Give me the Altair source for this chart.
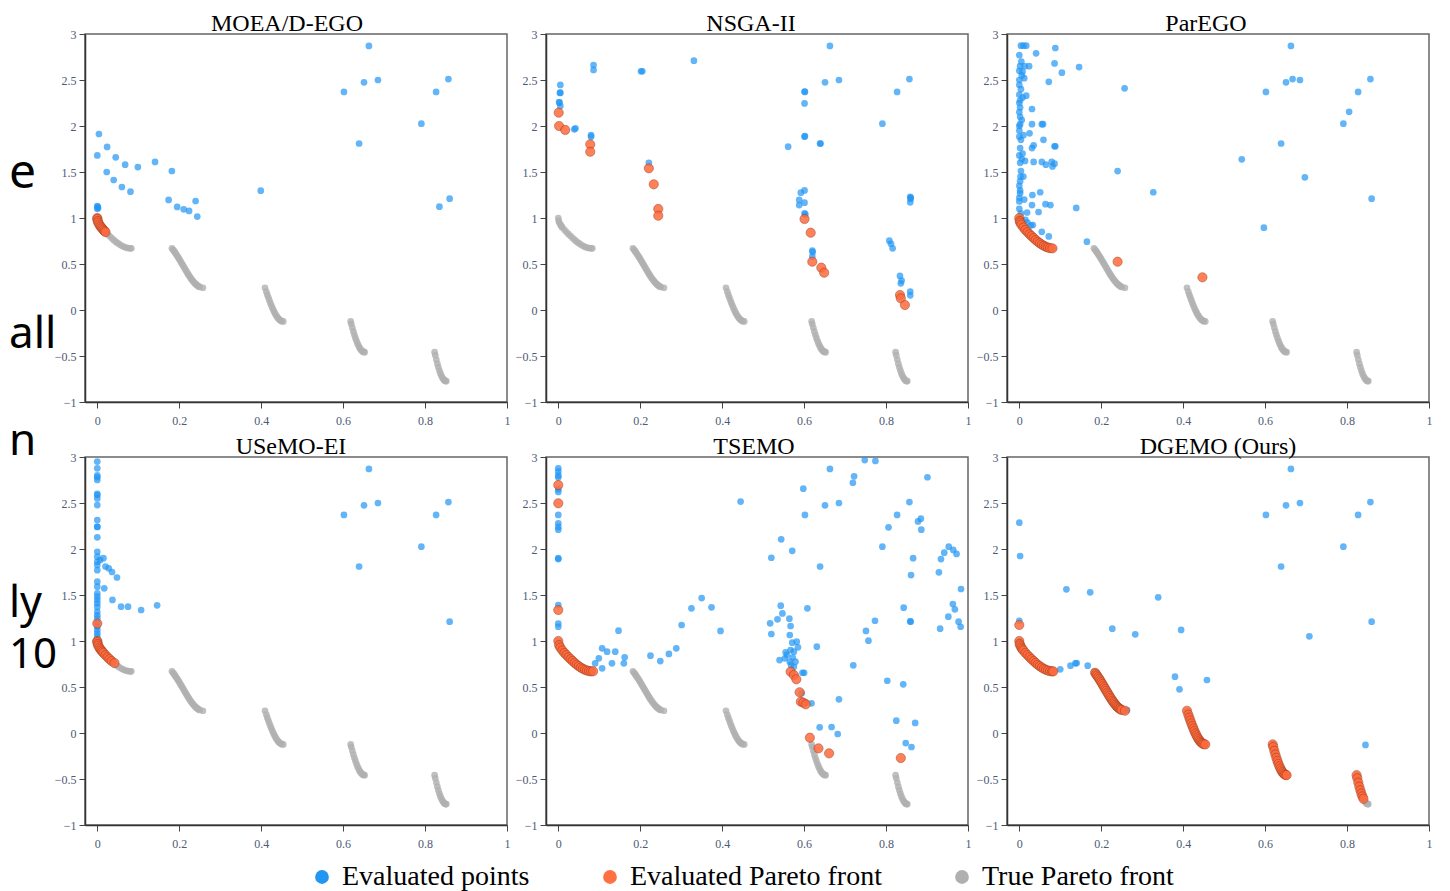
import altair as alt
import pandas as pd

# ---------------- data ----------------
methods = ["MOEA/D-EGO", "NSGA-II", "ParEGO", "USeMO-EI", "TSEMO", "DGEMO (Ours)"]
kinds = ["Evaluated points", "Evaluated Pareto front", "True Pareto front"]

# true Pareto front
true_x = [0.0, 0.001, 0.0025, 0.005, 0.0075, 0.01, 0.015, 0.02, 0.025, 0.03, 0.035, 0.04, 0.045,
          0.05, 0.055, 0.06, 0.065, 0.07, 0.075, 0.08, 0.083,
          0.1822, 0.185, 0.1875, 0.19, 0.1925, 0.195, 0.1975, 0.2, 0.2025, 0.205, 0.2075, 0.21, 0.2125,
          0.215, 0.2175, 0.22, 0.2225, 0.225, 0.2275, 0.23, 0.2325, 0.235, 0.2375, 0.24, 0.2425, 0.245,
          0.2475, 0.25, 0.2578,
          0.4093, 0.4125, 0.415, 0.4175, 0.42, 0.4225, 0.425, 0.4275, 0.43, 0.4325, 0.435, 0.4375, 0.44,
          0.4425, 0.445, 0.4475, 0.45, 0.4539,
          0.6184, 0.62, 0.6225, 0.625, 0.6275, 0.63, 0.6325, 0.635, 0.6375, 0.64, 0.6425, 0.645, 0.6475,
          0.65, 0.6525,
          0.8233, 0.825, 0.8275, 0.83, 0.8325, 0.835, 0.8375, 0.84, 0.8425, 0.845, 0.8475, 0.85, 0.8518]
true_y = [1.0, 0.968, 0.950, 0.928, 0.911, 0.897, 0.871, 0.847, 0.824, 0.803, 0.782, 0.762, 0.743,
          0.726, 0.711, 0.698, 0.687, 0.679, 0.673, 0.670, 0.670,
          0.670, 0.654, 0.639, 0.623, 0.606, 0.589, 0.571, 0.553, 0.534, 0.515, 0.496, 0.477, 0.458,
          0.439, 0.420, 0.402, 0.384, 0.367, 0.350, 0.334, 0.320, 0.306, 0.293, 0.282, 0.272, 0.263,
          0.256, 0.250, 0.242,
          0.242, 0.200, 0.167, 0.136, 0.105, 0.076, 0.048, 0.021, -0.004, -0.026, -0.047, -0.066, -0.082,
          -0.096, -0.107, -0.115, -0.121, -0.124,
          -0.124, -0.152, -0.193, -0.233, -0.269, -0.303, -0.335, -0.363, -0.387, -0.409, -0.426, -0.440,
          -0.450, -0.456, -0.458,
          -0.458, -0.492, -0.539, -0.583, -0.622, -0.658, -0.689, -0.715, -0.737, -0.754, -0.766, -0.772,
          -0.773]

# initial samples shared by every method
init_x = [0.602, 0.639, 0.651, 0.663, 0.685, 0.791, 0.827, 0.857, 0.860]
init_y = [2.37, 1.81, 2.475, 2.87, 2.50, 2.025, 2.37, 2.51, 1.21]

# MOEA/D-EGO
moead_eval_x = [0.004, 0.0, 0.024, 0.045, 0.068, 0.099, 0.141, 0.182, 0.023, 0.040, 0.060, 0.081,
                0.174, 0.195, 0.211, 0.224, 0.240, 0.244, 0.399, 0.835, 0.0, 0.001, 0.0, 0.002]
moead_eval_y = [1.913, 1.68, 1.772, 1.66, 1.58, 1.554, 1.609, 1.511, 1.50, 1.413, 1.337, 1.286,
                1.196, 1.12, 1.094, 1.077, 1.185, 1.015, 1.297, 1.123, 1.13, 1.12, 1.10, 1.11]
moead_pf_x = [0.0, 0.0, 0.001, 0.0025, 0.005, 0.0075, 0.01, 0.0125, 0.015, 0.0175, 0.02]
moead_pf_y = [1.0, 0.99, 0.968, 0.950, 0.928, 0.911, 0.897, 0.884, 0.871, 0.858, 0.847]

# NSGA-II
nsga_eval_x = [0.005, 0.005, 0.004, 0.003, 0.005, 0.002, 0.039, 0.042, 0.080, 0.080, 0.086, 0.086,
               0.202, 0.205, 0.331, 0.221, 0.561, 0.601, 0.601, 0.602, 0.601, 0.640, 0.592, 0.588,
               0.588, 0.601, 0.601, 0.601, 0.603, 0.620, 0.620, 0.621, 0.808, 0.816, 0.812, 0.834,
               0.836, 0.838, 0.859, 0.859, 0.860, 0.859, 0.859]
nsga_eval_y = [2.446, 2.362, 2.36, 2.253, 2.217, 2.26, 1.964, 1.975, 1.884, 1.90, 2.663, 2.61,
               2.595, 2.595, 2.71, 1.60, 1.775, 2.245, 1.884, 1.89, 2.375, 1.81, 1.275, 1.196,
               1.14, 1.30, 1.166, 1.05, 1.04, 0.645, 0.58, 0.63, 0.753, 0.67, 0.72, 0.37,
               0.29, 0.32, 1.23, 1.17, 1.22, 0.20, 0.16]
nsga_pf_x = [0.001, 0.002, 0.017, 0.078, 0.078, 0.221, 0.233, 0.244, 0.244, 0.601, 0.616, 0.620,
             0.642, 0.649, 0.834, 0.836, 0.846]
nsga_pf_y = [2.145, 2.0, 1.957, 1.80, 1.72, 1.54, 1.366, 1.098, 1.025, 0.989, 0.84, 0.525,
             0.46, 0.405, 0.163, 0.127, 0.054]

# ParEGO
parego_eval_x = [0.004, 0.017, 0.010, 0.0, 0.041, 0.088, 0.086, 0.002, 0.013, 0.024, 0.104, 0.146,
                 0.008, 0.012, 0.0, 0.0, 0.072, 0.257, 0.0, 0.008, 0.017, 0.002, 0.031, 0.0, 0.002,
                 0.002, 0.006, 0.002, 0.031, 0.055, 0.058, 0.0, 0.004, 0.025, 0.059, 0.035, 0.031,
                 0.002, 0.086, 0.088, 0.0, 0.006, 0.035, 0.055, 0.065, 0.079, 0.081, 0.086, 0.002,
                 0.004, 0.002, 0.240, 0.002, 0.0, 0.032, 0.051, 0.327, 0.064, 0.076, 0.139, 0.031,
                 0.047, 0.019, 0.033, 0.055, 0.072, 0.165, 0.543, 0.597, 0.697, 0.805, 0.667,
                 0.0, 0.0, 0.003, 0.0, 0.002, 0.0, 0.0, 0.004, 0.0, 0.004, 0.0, 0.006, 0.008, 0.010,
                 0.012, 0.015, 0.020, 0.028, 0.014, 0.010, 0.005]
parego_eval_y = [2.873, 2.873, 2.873, 2.77, 2.79, 2.848, 2.68, 2.65, 2.65, 2.65, 2.58, 2.64,
                 2.59, 2.52, 2.50, 2.446, 2.48, 2.41, 2.34, 2.31, 2.33, 2.28, 2.185, 2.25, 2.20,
                 2.10, 2.065, 2.02, 2.02, 2.02, 2.02, 1.884, 1.85, 1.92, 1.85, 1.79, 1.76,
                 1.76, 1.78, 1.78, 1.68, 1.64, 1.61, 1.61, 1.58, 1.61, 1.56, 1.59, 1.60,
                 1.51, 1.40, 1.51, 1.27, 1.18, 1.25, 1.28, 1.28, 1.15, 1.14, 1.11, 1.14,
                 1.065, 1.06, 0.924, 0.85, 0.80, 0.743, 1.638, 0.895, 1.442, 2.155, 2.51,
                 2.0, 1.95, 1.45, 1.35, 1.30, 1.22, 1.10, 1.05, 2.15, 2.40, 2.60, 2.55, 1.70, 1.45,
                 1.20, 0.98, 0.95, 0.92, 1.62, 1.90, 2.70]
parego_pf_x = [0.0, 0.001, 0.0025, 0.005, 0.01, 0.015, 0.02, 0.025, 0.03, 0.035, 0.04, 0.045, 0.05,
               0.055, 0.06, 0.065, 0.07, 0.075, 0.081, 0.240, 0.447]
parego_pf_y = [1.0, 0.968, 0.950, 0.928, 0.897, 0.871, 0.847, 0.824, 0.803, 0.782, 0.762, 0.743,
               0.726, 0.711, 0.698, 0.687, 0.679, 0.673, 0.670, 0.525, 0.355]

# USeMO-EI
usemo_eval_x = [0.0] * 33 + [0.007, 0.015, 0.020, 0.028, 0.036, 0.048, 0.017, 0.037, 0.058, 0.075,
                             0.107, 0.146]
usemo_eval_y = [2.95, 2.877, 2.80, 2.75, 2.587, 2.55, 2.478, 2.315, 2.242, 2.127, 1.97, 1.917,
                1.862, 1.826, 1.77, 1.645, 1.59, 1.518, 1.482, 1.446, 1.41, 1.37, 1.318, 1.28,
                1.246, 1.155, 1.083, 2.60, 2.24, 2.78, 1.20, 1.12, 1.05,
                1.88, 1.90, 1.81, 1.79, 1.75, 1.69, 1.573, 1.446, 1.373, 1.373, 1.337, 1.388]
usemo_pf_x = [0.0, 0.0, 0.0, 0.001, 0.0025, 0.005, 0.0075, 0.01, 0.0125, 0.015, 0.02, 0.025, 0.03,
              0.035, 0.042]
usemo_pf_y = [1.19, 1.0, 0.99, 0.968, 0.950, 0.928, 0.911, 0.897, 0.884, 0.871, 0.847, 0.824, 0.803,
              0.782, 0.760]

# TSEMO
tsemo_eval_x = [0.0] * 15 + [
    0.107, 0.099, 0.090, 0.107, 0.119, 0.131, 0.139, 0.147, 0.160, 0.162, 0.225, 0.249, 0.270,
    0.288, 0.301, 0.325, 0.350, 0.374, 0.396, 0.445,
    0.748, 0.774, 0.722, 0.719, 0.901, 0.598, 0.806, 0.878, 0.885, 0.886, 0.544, 0.571, 0.520,
    0.866, 0.861, 0.929, 0.934, 0.942, 0.953, 0.964, 0.972, 0.983,
    0.543, 0.547, 0.535, 0.517, 0.520, 0.564, 0.567, 0.565, 0.571, 0.582, 0.585, 0.608, 0.555,
    0.567, 0.575, 0.540, 0.553, 0.565, 0.579, 0.600, 0.596, 0.631, 0.594, 0.618, 0.685, 0.720,
    0.751, 0.757, 0.773, 0.843, 0.859, 0.932, 0.952, 0.963, 0.968, 0.977, 0.982, 0.803, 0.842,
    0.638, 0.667, 0.682, 0.825, 0.871, 0.848, 0.862, 0.558, 0.572, 0.568, 0.575, 0.604]
tsemo_eval_y = [2.877, 2.84, 2.80, 2.78, 2.62, 2.65, 2.37, 2.28, 2.24, 2.21, 1.90, 1.89, 1.39,
                1.19, 1.155,
                0.92, 0.812, 0.757, 0.703, 0.884, 0.757, 0.884, 1.112, 0.757, 0.823, 0.84, 0.782,
                0.859, 0.92, 1.174, 1.355, 1.467, 1.366, 1.109, 2.515,
                2.967, 2.957, 2.79, 2.72, 2.78, 2.656, 2.236, 2.30, 2.33, 2.21, 2.105, 1.98, 1.905,
                1.90, 1.717, 1.747, 1.89, 1.96, 2.025, 1.99, 1.946, 1.565,
                1.384, 1.30, 1.236, 1.192, 1.076, 1.243, 1.163, 1.065, 0.982, 0.993, 0.931, 1.355,
                0.877, 0.902, 0.884, 0.793, 0.812, 0.775, 0.775, 0.655, 0.655, 0.938, 0.432, 0.323,
                0.366, 0.736, 1.109, 1.003, 1.22, 1.362, 1.214, 1.134, 1.264, 1.402, 1.344, 1.21,
                1.155, 0.568, 0.529, 0.062, 0.065, -0.011, 0.134, 0.109, -0.109, -0.152, 0.85, 0.82,
                0.74, 0.72, 0.33]
tsemo_pf_x = [0.0, 0.0, 0.0, 0.0, 0.002, 0.005, 0.01, 0.015, 0.02, 0.025, 0.03, 0.035, 0.04, 0.045,
              0.05, 0.055, 0.06, 0.065, 0.07, 0.075, 0.08, 0.085,
              0.567, 0.575, 0.581, 0.589, 0.592, 0.598, 0.604, 0.614, 0.635, 0.661, 0.836]
tsemo_pf_y = [2.696, 2.497, 1.337, 1.0, 0.955, 0.928, 0.897, 0.871, 0.847, 0.824, 0.803, 0.782,
              0.762, 0.743, 0.726, 0.711, 0.698, 0.687, 0.679, 0.673, 0.670, 0.672,
              0.666, 0.630, 0.584, 0.443, 0.340, 0.330, 0.312, -0.051, -0.167, -0.221, -0.272]

# DGEMO (Ours)
dgemo_eval_x = [0.0, 0.002, 0.115, 0.173, 0.339, 0.227, 0.283, 0.395, 0.708, 0.380, 0.391, 0.458,
                0.845, 0.0, 0.100, 0.125, 0.137, 0.140, 0.167, 0.263]
dgemo_eval_y = [2.286, 1.924, 1.562, 1.529, 1.475, 1.134, 1.073, 1.12, 1.051, 0.612, 0.475, 0.576,
                -0.13, 1.22, 0.692, 0.732, 0.757, 0.76, 0.732, 0.25]
dgemo_pf_x = [0.0, 0.0, 0.001, 0.0025, 0.005, 0.0075, 0.01, 0.015, 0.02, 0.025, 0.03, 0.035, 0.04,
              0.045, 0.05, 0.055, 0.06, 0.065, 0.07, 0.075, 0.08, 0.083,
              0.185, 0.1875, 0.19, 0.1925, 0.195, 0.1975, 0.2, 0.2025, 0.205, 0.2075, 0.21, 0.2125,
              0.215, 0.2175, 0.22, 0.2225, 0.225, 0.2275, 0.23, 0.2325, 0.235, 0.2375, 0.24, 0.2425,
              0.245, 0.2475, 0.25, 0.2578,
              0.4093, 0.4125, 0.415, 0.4175, 0.42, 0.4225, 0.425, 0.4275, 0.43, 0.4325, 0.435,
              0.4375, 0.44, 0.4425, 0.445, 0.4475, 0.45, 0.4539,
              0.6184, 0.62, 0.6225, 0.625, 0.6275, 0.63, 0.6325, 0.635, 0.6375, 0.64, 0.6425, 0.645,
              0.6475, 0.65, 0.6525,
              0.8233, 0.825, 0.8275, 0.83, 0.8325, 0.835, 0.8375, 0.84]
dgemo_pf_y = [1.174, 1.0, 0.968, 0.950, 0.928, 0.911, 0.897, 0.871, 0.847, 0.824, 0.803, 0.782,
              0.762, 0.743, 0.726, 0.711, 0.698, 0.687, 0.679, 0.673, 0.670, 0.670,
              0.654, 0.639, 0.623, 0.606, 0.589, 0.571, 0.553, 0.534, 0.515, 0.496, 0.477, 0.458,
              0.439, 0.420, 0.402, 0.384, 0.367, 0.350, 0.334, 0.320, 0.306, 0.293, 0.282, 0.272,
              0.263, 0.256, 0.250, 0.242,
              0.242, 0.200, 0.167, 0.136, 0.105, 0.076, 0.048, 0.021, -0.004, -0.026, -0.047,
              -0.066, -0.082, -0.096, -0.107, -0.115, -0.121, -0.124,
              -0.124, -0.152, -0.193, -0.233, -0.269, -0.303, -0.335, -0.363, -0.387, -0.409,
              -0.426, -0.440, -0.450, -0.456, -0.458,
              -0.458, -0.492, -0.539, -0.583, -0.622, -0.658, -0.689, -0.715]

panel_eval = [(moead_eval_x, moead_eval_y), (nsga_eval_x, nsga_eval_y), (parego_eval_x, parego_eval_y),
              (usemo_eval_x, usemo_eval_y), (tsemo_eval_x, tsemo_eval_y), (dgemo_eval_x, dgemo_eval_y)]
panel_pf = [(moead_pf_x, moead_pf_y), (nsga_pf_x, nsga_pf_y), (parego_pf_x, parego_pf_y),
            (usemo_pf_x, usemo_pf_y), (tsemo_pf_x, tsemo_pf_y), (dgemo_pf_x, dgemo_pf_y)]

# clipped text from the slide behind the figure
side_top = ["e", "all", "n"]
side_bottom = ["ly", "10"]

x_ticks = [0, 0.2, 0.4, 0.6, 0.8, 1]
y_ticks = [-1, -0.5, 0, 0.5, 1, 1.5, 2, 2.5, 3]

# ---------------- styling ----------------
SERIF = "Liberation Serif"
BLUE, ORANGE, GREY = "#2196f3", "#ff6a3d", "#a8a8a8"
title_dx = [-9, -6, -12, -5, -3, 0]
side_y_top = [154, 314, 421]
side_size_top = [48, 44, 44]
side_y_bottom = [160, 211]

color_scale = alt.Scale(domain=kinds, range=[BLUE, "#ff7043", "#b0b0b0"])
legend = alt.Legend(orient="none", legendX=223, legendY=829, direction="horizontal", title=None,
                    labelFont=SERIF, labelFontSize=28, labelColor="black", labelLimit=500,
                    symbolType="circle", symbolSize=190, symbolStrokeWidth=0, symbolOpacity=1,
                    columnPadding=66, labelOffset=6, columns=3)

axis_common = dict(grid=False, labelFont=SERIF, labelFontSize=12, labelColor="#4d5a75",
                   tickColor="#444", tickSize=6, domainColor="#333", domainWidth=1.5,
                   labelFlush=False, format="~g", title=None)
xaxis = alt.Axis(values=x_ticks, labelPadding=7, **axis_common)
yaxis = alt.Axis(values=y_ticks, labelPadding=3, **axis_common)
xs = alt.Scale(domain=[-0.03, 1.0], nice=False, zero=False)
ys = alt.Scale(domain=[-1, 3], nice=False, zero=False)


def side_layers(texts, ys_px, sizes):
    out = []
    for t, yy, fs in zip(texts, ys_px, sizes):
        out.append(alt.Chart(pd.DataFrame({"t": [t]})).mark_text(
            align="left", baseline="alphabetic", font="Noto Sans", fontSize=fs, color="black"
        ).encode(text="t:N", x=alt.value(-76), y=alt.value(yy)))
    return out


def panel(i):
    ex, ey = panel_eval[i]
    px, py = panel_pf[i]
    df_true = pd.DataFrame({"x": true_x, "y": true_y, "kind": kinds[2]})
    df_eval = pd.DataFrame({"x": init_x + ex, "y": init_y + ey, "kind": kinds[0]})
    df_pf = pd.DataFrame({"x": px, "y": py, "kind": kinds[1]})
    enc = dict(x=alt.X("x:Q", scale=xs, axis=xaxis),
               y=alt.Y("y:Q", scale=ys, axis=yaxis),
               color=alt.Color("kind:N", scale=color_scale, legend=legend))
    g = alt.Chart(df_true).mark_circle(size=45, opacity=0.8, color=GREY).encode(**enc)
    b = alt.Chart(df_eval).mark_circle(size=45, opacity=0.7).encode(**enc)
    o = alt.Chart(df_pf).mark_circle(size=85, opacity=0.85, stroke="#9a3a1a", strokeWidth=0.8,
                                     strokeOpacity=0.75).encode(
        x=enc["x"], y=enc["y"], color=enc["color"], fill=alt.value(ORANGE))
    layers = [g, b, o]
    if i == 0:
        layers += side_layers(side_top, side_y_top, side_size_top)
    if i == 3:
        layers += side_layers(side_bottom, side_y_bottom, [43, 42])
    return alt.layer(*layers).properties(
        width=422, height=368,
        title=alt.TitleParams(text=methods[i], font=SERIF, fontSize=24, fontWeight="normal",
                              color="black", anchor="middle", frame="group", offset=0,
                              dx=title_dx[i], dy=8))


chart = alt.concat(*[panel(i) for i in range(6)], columns=3, bounds="flush",
                   spacing={"row": 55, "column": 39}).resolve_scale(color="shared").resolve_legend(
    color="shared").properties(padding={"left": 0, "top": 3, "right": 0, "bottom": 0}).configure_view(
    stroke="#666", strokeWidth=1.5)

chart.save("out.html", embed_options={"renderer": "svg", "actions": False})
